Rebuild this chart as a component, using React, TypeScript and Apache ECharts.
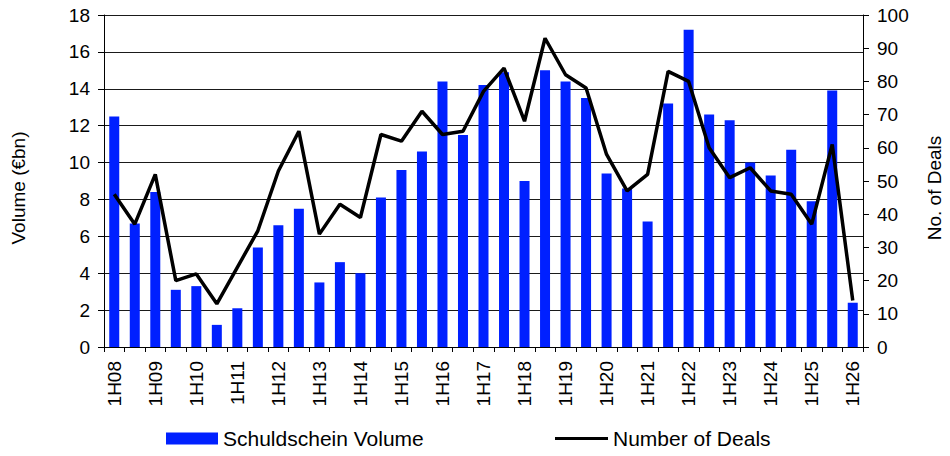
import React, { useEffect, useRef } from "react";
import * as echarts from "echarts";

const categories = [
  "1H08", "2H08", "1H09", "2H09", "1H10", "2H10", "1H11", "2H11", "1H12", "2H12",
  "1H13", "2H13", "1H14", "2H14", "1H15", "2H15", "1H16", "2H16", "1H17", "2H17",
  "1H18", "2H18", "1H19", "2H19", "1H20", "2H20", "1H21", "2H21", "1H22", "2H22",
  "1H23", "2H23", "1H24", "2H24", "1H25", "2H25", "1H26",
];

const volume = [
  12.5, 6.7, 8.4, 3.1, 3.3, 1.2, 2.1, 5.4, 6.6, 7.5,
  3.5, 4.6, 4.0, 8.1, 9.6, 10.6, 14.4, 11.5, 14.2, 14.9,
  9.0, 15.0, 14.4, 13.5, 9.4, 8.6, 6.8, 13.2, 17.2, 12.6,
  12.3, 10.0, 9.3, 10.7, 7.9, 13.9, 2.4,
];

const deals = [
  46, 37, 52, 20, 22, 13, 24, 35, 53, 65,
  34, 43, 39, 64, 62, 71, 64, 65, 77, 84,
  68, 93, 82, 78, 58, 47, 52, 83, 80, 60,
  51, 54, 47, 46, 37, 61, 14,
];

const FONT = "'Liberation Sans', Arial, sans-serif";

export default function App() {
  const ref = useRef<HTMLDivElement>(null);
  useEffect(() => {
    if (!ref.current) return;
    const chart = echarts.init(ref.current, null, { renderer: "svg" });
    chart.setOption({
      animation: false,
      backgroundColor: "#ffffff",
      textStyle: { fontFamily: FONT, color: "#000" },
      grid: { left: 104, right: 87, top: 15, bottom: 109, containLabel: false, outerBoundsMode: "none" },
      legend: [
        {
          data: [{ name: "Schuldschein Volume", icon: "rect" }],
          left: 166,
          top: 428,
          padding: 0,
          itemWidth: 52,
          itemHeight: 12,
          itemGap: 0,
          textStyle: { fontSize: 21, fontFamily: FONT, color: "#000" },
        },
        {
          data: [{ name: "Number of Deals", icon: "rect" }],
          left: 555,
          top: 428,
          padding: 0,
          itemWidth: 53,
          itemHeight: 3,
          itemGap: 0,
          textStyle: { fontSize: 21, fontFamily: FONT, color: "#000" },
        },
      ],
      xAxis: {
        type: "category",
        data: categories,
        boundaryGap: true,
        axisLine: { lineStyle: { color: "#000", width: 1 } },
        axisTick: { show: true, interval: 0, length: 5, lineStyle: { color: "#000" } },
        axisLabel: {
          interval: 1,
          rotate: 90,
          margin: 14,
          fontSize: 19,
          fontFamily: FONT,
          color: "#000",
        },
        splitLine: { show: false },
      },
      yAxis: [
        {
          type: "value",
          min: 0,
          max: 18,
          interval: 2,
          name: "Volume (€bn)",
          nameLocation: "middle",
          nameRotate: 90,
          nameGap: 76,
          nameTextStyle: { fontSize: 19, fontFamily: FONT, color: "#000", padding: [0, 14, 0, 0] },
          axisLine: { show: true, lineStyle: { color: "#000", width: 1 } },
          axisTick: { show: true, length: 6, lineStyle: { color: "#000" } },
          axisLabel: { fontSize: 19, margin: 14, fontFamily: FONT, color: "#000" },
          splitLine: { show: true, lineStyle: { color: "#1a1a1a", width: 1 } },
        },
        {
          type: "value",
          min: 0,
          max: 100,
          interval: 10,
          position: "right",
          name: "No. of Deals",
          nameLocation: "middle",
          nameRotate: 90,
          nameGap: 62,
          nameTextStyle: { fontSize: 19, fontFamily: FONT, color: "#000", padding: [0, 14, 0, 0] },
          axisLine: { show: true, lineStyle: { color: "#000", width: 1 } },
          axisTick: { show: true, length: 6, lineStyle: { color: "#000" } },
          axisLabel: { fontSize: 19, margin: 14, fontFamily: FONT, color: "#000" },
          splitLine: { show: false },
        },
      ],
      series: [
        {
          name: "Schuldschein Volume",
          type: "bar",
          yAxisIndex: 0,
          data: volume,
          barWidth: 10,
          itemStyle: { color: "#0020FF" },
        },
        {
          name: "Number of Deals",
          type: "line",
          yAxisIndex: 1,
          data: deals,
          symbol: "none",
          lineStyle: { color: "#000", width: 3.5 },
          itemStyle: { color: "#000" },
        },
      ],
    });
    return () => chart.dispose();
  }, []);
  return (
    <div
      ref={ref}
      style={{ position: "fixed", left: 0, top: 0, width: 950, height: 456 }}
    />
  );
}
